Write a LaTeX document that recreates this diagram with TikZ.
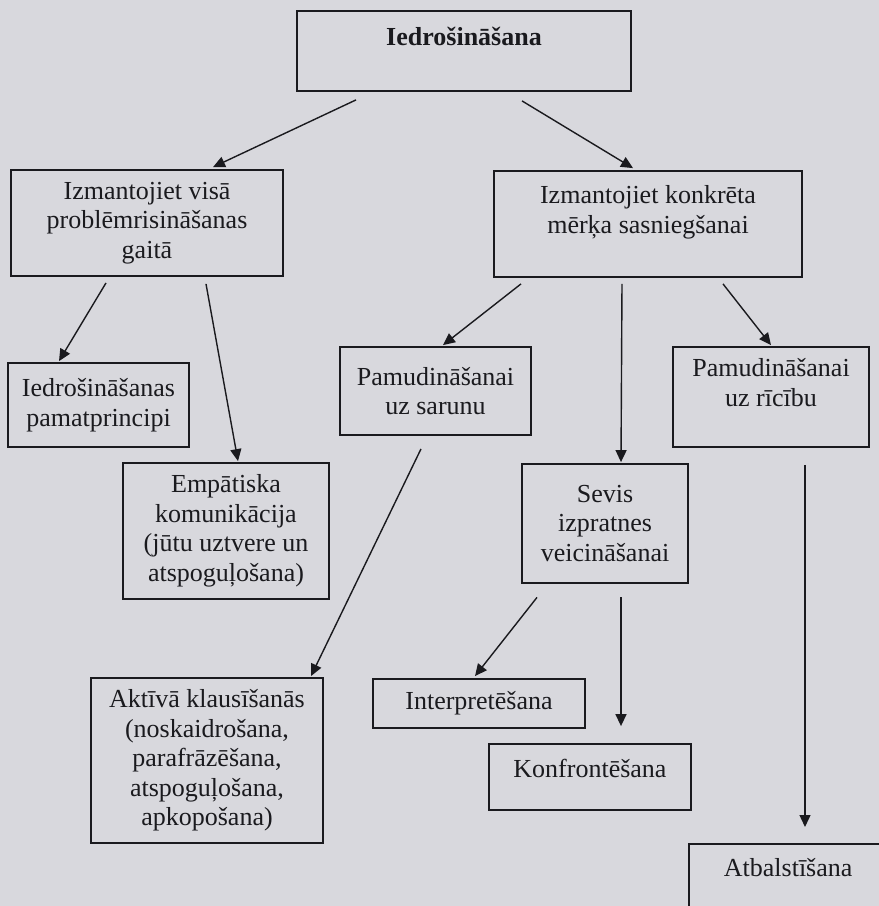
\documentclass[tikz,border=0pt]{standalone}
\usepackage{fontspec}
\setmainfont{Liberation Serif}
\usetikzlibrary{arrows.meta}
\definecolor{pagebg}{RGB}{216,216,221}
\definecolor{ink}{RGB}{26,26,30}
\begin{document}
\begin{tikzpicture}[x=1pt,y=-1pt,
  box/.style={draw=ink,line width=1.8pt,align=center,inner sep=2pt,
    font=\fontsize{26}{29.5}\selectfont,text=ink},
  arr/.style={draw=ink,line width=1.4pt,-{Triangle[length=12pt,width=11pt]}},
  ln/.style={draw=ink,line width=1.4pt}]
\fill[pagebg] (0,0) rectangle (879,906);
\useasboundingbox (0,0) rectangle (879,906);
\clip (0,0) rectangle (879,906);

\node[box,minimum width=334pt,minimum height=80pt] (A) at (464,51) {\textbf{Iedrošināšana}\\\mbox{}};
\node[box,minimum width=272pt,minimum height=106pt] (B) at (147,223) {Izmantojiet visā\\problēmrisināšanas\\gaitā};
\node[box,minimum width=308pt,minimum height=106pt] (C) at (648,224) {Izmantojiet konkrēta\\mērķa sasniegšanai\\\mbox{}};
\node[box,minimum width=181pt,minimum height=84pt] (D) at (98.5,405) {Iedrošināšanas\\pamatprincipi};
\node[box,minimum width=206pt,minimum height=136pt] (E) at (226,531) {Empātiska\\komunikācija\\(jūtu uztvere un\\atspoguļošana)};
\node[box,minimum width=191pt,minimum height=88pt] (F) at (435.5,391) {Pamudināšanai\\uz sarunu};
\node[box,minimum width=166pt,minimum height=119pt] (G) at (605,523.5) {Sevis\\izpratnes\\veicināšanai};
\node[box,minimum width=196pt,minimum height=100pt] (H) at (771,397) {Pamudināšanai\\uz rīcību\\\mbox{}};
\node[box,minimum width=232pt,minimum height=165pt] (I) at (207,760.5) {Aktīvā klausīšanās\\(noskaidrošana,\\parafrāzēšana,\\atspoguļošana,\\apkopošana)};
\node[box,minimum width=212pt,minimum height=49pt] (J) at (479,703.5) {Interpretēšana};
\node[box,minimum width=202pt,minimum height=66pt,text height=20pt,text depth=20pt] (K) at (590,777) {Konfrontēšana};
\node[box,anchor=north west,align=left,text width=150pt,inner xsep=35pt,inner ysep=14pt,text height=19pt,text depth=40pt] (L) at (688,843) {Atbalstīšana};

\draw[arr] ([xshift=-108pt,yshift=-8pt]A.south) -- ([xshift=66pt,yshift=2pt]B.north);
\draw[arr] ([xshift=58pt,yshift=-9pt]A.south) -- ([xshift=-15pt,yshift=2pt]C.north);
\draw[arr] ([xshift=-41pt,yshift=-6pt]B.south) -- ([xshift=-39.5pt,yshift=1pt]D.north);
\draw[arr] ([xshift=59pt,yshift=-7pt]B.south) -- ([xshift=12pt,yshift=1pt]E.north);
\draw[arr] ([xshift=-127pt,yshift=-6pt]C.south) -- ([xshift=7.5pt,yshift=1pt]F.north);
\draw[arr] ([xshift=-26pt,yshift=-6pt]C.south) -- ([xshift=16pt,yshift=1pt]G.north);
\draw[arr] ([xshift=75pt,yshift=-6pt]C.south) -- ([yshift=1pt]H.north);
\draw[arr] ([xshift=-14.5pt,yshift=-13pt]F.south) -- ([xshift=104pt,yshift=1pt]I.north);
\draw[arr] ([xshift=-68pt,yshift=-13.5pt]G.south) -- ([xshift=-4pt,yshift=2pt]J.north);
\draw[arr] ([xshift=16pt,yshift=-13.5pt]G.south) -- ([xshift=31pt,yshift=17pt]K.north);
\draw[arr] ([xshift=34pt,yshift=-17pt]H.south) -- ([xshift=117pt,yshift=16pt]L.north west);
\end{tikzpicture}
\end{document}
